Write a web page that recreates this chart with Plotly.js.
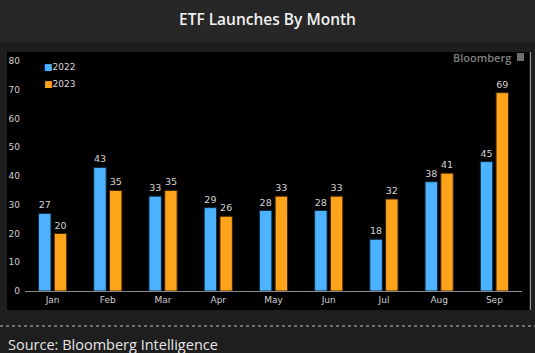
<!DOCTYPE html>
<html><head><meta charset="utf-8">
<script src="https://cdn.plot.ly/plotly-3.0.1.min.js"></script>
<style>html,body{margin:0;padding:0;background:#1e1e1e;overflow:hidden}</style>
</head><body><div id="chart" style="width:535px;height:353px"></div>
<script>
const months = ["Jan","Feb","Mar","Apr","May","Jun","Jul","Aug","Sep"];
const launches2022 = [27,43,33,29,28,28,18,38,45];
const launches2023 = [20,35,35,26,33,33,32,41,69];
const seriesNames = ["2022","2023"];
const yTicks = [0,10,20,30,40,50,60,70,80];

const WIDTH=535, HEIGHT=353, L=25, R=13, T=61, B=62;
const PW=WIDTH-L-R, PH=HEIGHT-T-B;
const px = v => (v-L)/PW;
const py = v => (HEIGHT-B-v)/PH;
const BLUE="#4db2ff", ORANGE="#ffa31a";

const common = {type:"bar", x:months, textposition:"outside", cliponaxis:false,
  textfont:{family:"DejaVu Sans", size:9.5, color:"#d4d4d4"}, hoverinfo:"skip",
  showlegend:false};
const traces = [
  Object.assign({}, common, {name:seriesNames[0], y:launches2022, text:launches2022.map(String),
    marker:{color:BLUE, line:{color:"#0d2a40", width:1}}}),
  Object.assign({}, common, {name:seriesNames[1], y:launches2023, text:launches2023.map(String),
    marker:{color:ORANGE, line:{color:"#3d2400", width:1}}})
];

const layout = {
  width:WIDTH, height:HEIGHT, margin:{l:L,r:R,t:T,b:B,pad:0},
  paper_bgcolor:"#1e1e1e", plot_bgcolor:"#000",
  barmode:"group", bargap:0.43, bargroupgap:0.21,
  font:{family:"DejaVu Sans", color:"#cccccc", size:9},
  xaxis:{type:"category", showline:true, linecolor:"#8a8a8a", linewidth:1, ticks:"",
    showgrid:false, zeroline:false, tickfont:{size:9, color:"#cfcfcf"}, fixedrange:true},
  yaxis:{range:[0,80], tickvals:yTicks, showgrid:false, zeroline:false, showline:false,
    ticks:"", ticklabelstandoff:4, tickfont:{size:9, color:"#cfcfcf"}, fixedrange:true},
  shapes:[
    {type:"rect", xref:"paper", yref:"paper", x0:px(0), x1:px(535), y0:py(0), y1:py(42),
      fillcolor:"#272727", line:{width:0}, layer:"below"},
    {type:"rect", xref:"paper", yref:"paper", x0:px(7), x1:px(529), y0:py(52), y1:py(310),
      fillcolor:"#000", line:{width:0}, layer:"below"},
    {type:"line", xref:"paper", yref:"paper", x0:px(530.5), x1:px(530.5), y0:py(52), y1:py(310),
      line:{color:"#9a9a9a", width:1}},
    {type:"line", xref:"paper", yref:"paper", x0:px(0), x1:px(535), y0:py(326), y1:py(326),
      line:{color:"#bdbdbd", width:1, dash:"dot"}},
    {type:"rect", xref:"paper", yref:"paper", x0:px(517), x1:px(524), y0:py(53), y1:py(61),
      fillcolor:"#6f6f6f", line:{width:0}}
  ],
  annotations:[
    {xref:"paper", yref:"paper", x:px(267.5), y:py(19), text:"ETF Launches By Month",
      showarrow:false, xanchor:"center", yanchor:"middle",
      font:{family:"Open Sans", size:15.5, weight:600, color:"#f2f2f2"}},
    {xref:"paper", yref:"paper", x:px(6), y:py(344), text:"Source: Bloomberg Intelligence",
      showarrow:false, xanchor:"left", yanchor:"middle",
      font:{family:"Open Sans", size:14.5, color:"#e6e6e6"}},
    {xref:"paper", yref:"paper", x:px(513), y:py(57), text:"Bloomberg",
      showarrow:false, xanchor:"right", yanchor:"middle",
      font:{family:"Open Sans", size:11, weight:600, color:"#808080"}},
    {xref:"paper", yref:"paper", x:px(42), y:py(67), text:'<span style="color:'+BLUE+'">■</span>'+seriesNames[0],
      showarrow:false, xanchor:"left", yanchor:"middle",
      font:{family:"DejaVu Sans", size:9, color:"#d8d8d8"}},
    {xref:"paper", yref:"paper", x:px(42), y:py(84), text:'<span style="color:'+ORANGE+'">■</span>'+seriesNames[1],
      showarrow:false, xanchor:"left", yanchor:"middle",
      font:{family:"DejaVu Sans", size:9, color:"#d8d8d8"}}
  ]
};
Plotly.newPlot("chart", traces, layout, {displayModeBar:false, staticPlot:true});
</script></body></html>
